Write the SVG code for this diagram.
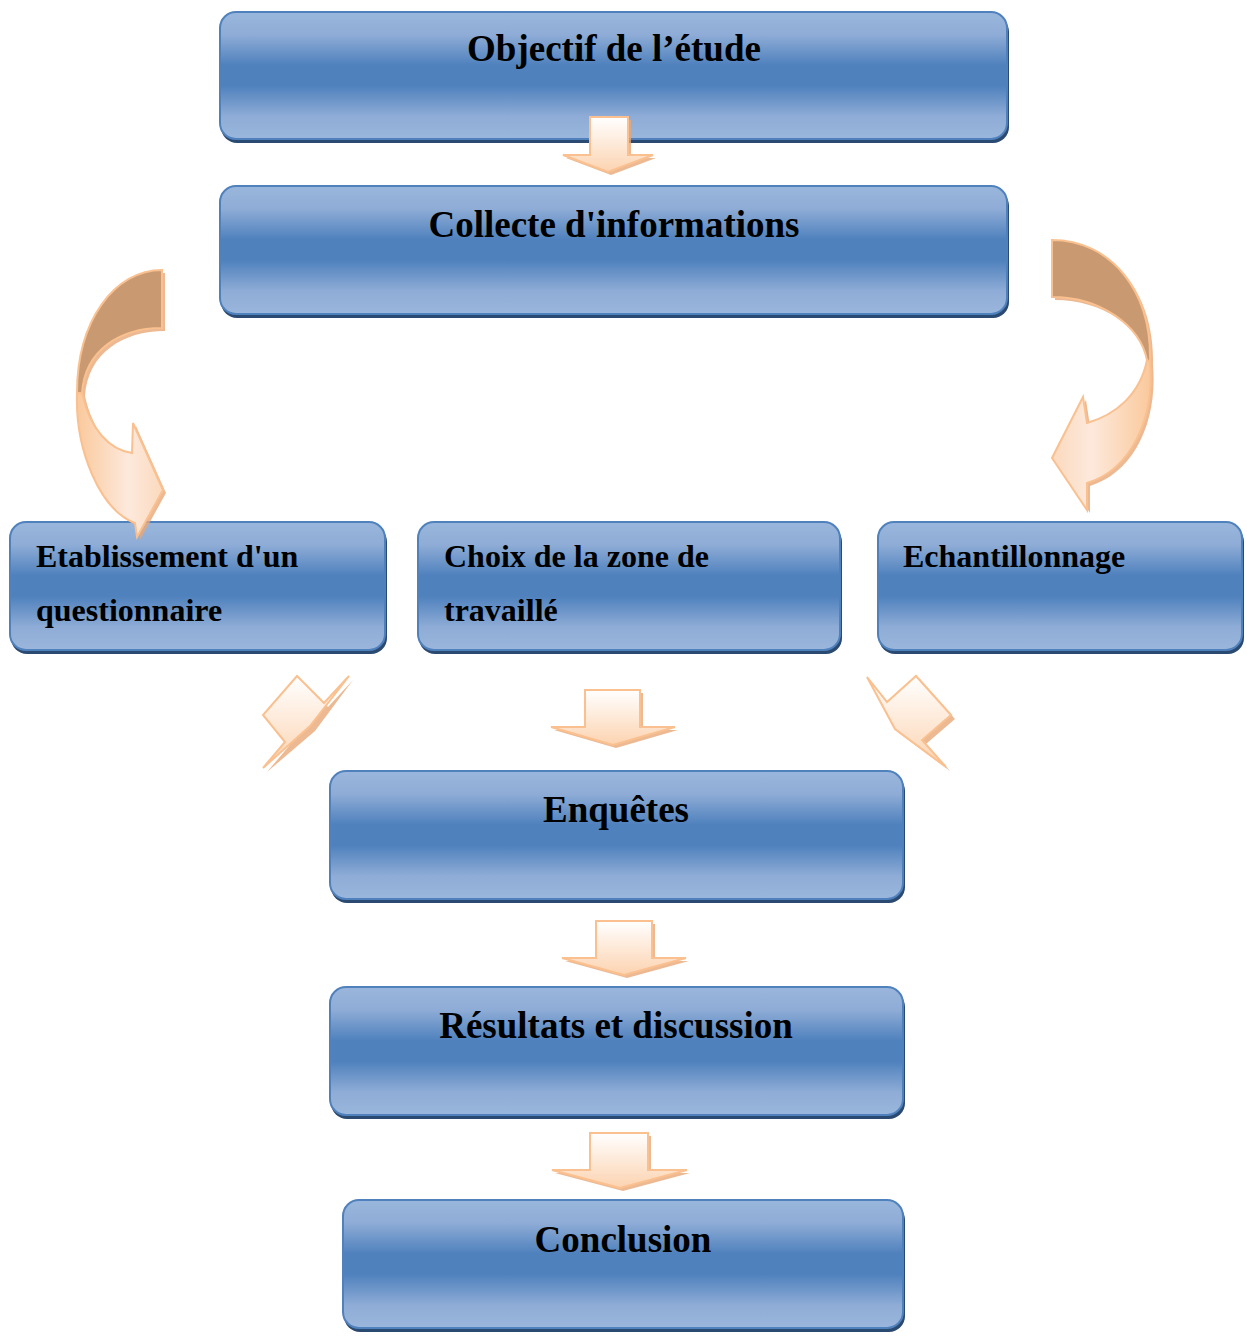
<svg xmlns="http://www.w3.org/2000/svg" width="1247" height="1337" viewBox="0 0 1247 1337">
<defs>
<linearGradient id="boxg" x1="0" y1="0" x2="0" y2="1">
<stop offset="0" stop-color="#9ab6dc"/>
<stop offset="0.18" stop-color="#8eacd6"/>
<stop offset="0.42" stop-color="#4f81bd"/>
<stop offset="0.58" stop-color="#4f81bd"/>
<stop offset="0.82" stop-color="#8eacd6"/>
<stop offset="1" stop-color="#9ab6dc"/>
</linearGradient>
<linearGradient id="arrg" x1="0" y1="0" x2="0" y2="1">
<stop offset="0" stop-color="#ffffff"/>
<stop offset="1" stop-color="#fcd3b0"/>
</linearGradient>
<linearGradient id="curvg" x1="0" y1="0" x2="1" y2="0">
<stop offset="0" stop-color="#fac99c"/>
<stop offset="0.6" stop-color="#fde9dc"/>
<stop offset="1" stop-color="#fbd9bd"/>
</linearGradient>
<linearGradient id="curvg2" x1="1" y1="0" x2="0" y2="0">
<stop offset="0" stop-color="#fac99c"/>
<stop offset="0.6" stop-color="#fde9dc"/>
<stop offset="1" stop-color="#fbd9bd"/>
</linearGradient>
</defs>
<style>
.box{fill:url(#boxg);stroke:#4f81bd;stroke-width:2}
.sh{fill:#2b4a72}
.t{font-family:"Liberation Serif","Times New Roman",serif;font-weight:bold;fill:#000}
.big{font-size:37px;text-anchor:middle}
.sm{font-size:32px}
.arr{fill:url(#arrg);stroke:#fac08f;stroke-width:2;stroke-linejoin:miter}
.ash{fill:#e7a878;opacity:0.8}
.dark{fill:#c99a72;stroke:#fac08f;stroke-width:2}
.lc{fill:url(#curvg);stroke:#fac08f;stroke-width:2}
.rc{fill:url(#curvg2);stroke:#fac08f;stroke-width:2}
</style>

<g id="n1">
<rect class="sh" x="221" y="16" width="788" height="127" rx="16"/>
<rect class="box" x="220" y="12" width="787" height="127" rx="16"/>
<text class="t big" x="614" y="61">Objectif de l’étude</text>
</g>
<g id="n2">
<rect class="sh" x="221" y="190" width="788" height="128" rx="16"/>
<rect class="box" x="220" y="186" width="787" height="128" rx="16"/>
<text class="t big" x="614" y="237">Collecte d'informations</text>
</g>
<g id="n3">
<rect class="sh" x="11" y="526" width="376" height="128" rx="16"/>
<rect class="box" x="10" y="522" width="375" height="128" rx="16"/>
<text class="t sm" x="36" y="567">Etablissement d'un</text>
<text class="t sm" x="36" y="621">questionnaire</text>
</g>
<g id="n4">
<rect class="sh" x="419" y="526" width="423" height="128" rx="16"/>
<rect class="box" x="418" y="522" width="422" height="128" rx="16"/>
<text class="t sm" x="444" y="567">Choix de la zone de</text>
<text class="t sm" x="444" y="621">travaillé</text>
</g>
<g id="n5">
<rect class="sh" x="879" y="526" width="365" height="128" rx="16"/>
<rect class="box" x="878" y="522" width="364" height="128" rx="16"/>
<text class="t sm" x="903" y="567">Echantillonnage</text>
</g>
<g id="n6">
<rect class="sh" x="331" y="775" width="574" height="128" rx="16"/>
<rect class="box" x="330" y="771" width="573" height="128" rx="16"/>
<text class="t big" x="616" y="822">Enquêtes</text>
</g>
<g id="n7">
<rect class="sh" x="331" y="991" width="574" height="128" rx="16"/>
<rect class="box" x="330" y="987" width="573" height="128" rx="16"/>
<text class="t big" x="616" y="1038">Résultats et discussion</text>
</g>
<g id="n8">
<rect class="sh" x="344" y="1204" width="561" height="128" rx="16"/>
<rect class="box" x="343" y="1200" width="560" height="128" rx="16"/>
<text class="t big" x="623" y="1252">Conclusion</text>
</g>

<g id="connectors">
<!-- arrow 1 -> 2 -->
<g>
<path class="ash" d="M593,120 H631 V158 H656 L611,175 L566,158 H593 Z"/>
<path class="arr" d="M590,117 H628 V155 H653 L608,172 L563,155 H590 Z"/>
</g>
<!-- left curved arrow -->
<g>
<path class="ash" d="M165,273 C118,273 80,323 80,396 C78,453 103,513 138,526 L140,540 L166,493 L136,426 L135,456 C113,453 93,433 85,396 C88,353 123,331 165,331 Z"/>
<path class="dark" d="M162,270 C115,270 77,320 77,393 L82,393 C85,350 120,328 162,328 Z"/>
<path class="lc" d="M77,393 C75,450 100,510 135,523 L137,537 L163,490 L133,423 L132,453 C110,450 90,430 82,393 Z"/>
</g>
<!-- right curved arrow -->
<g>
<path class="ash" d="M1055,243 C1113,243 1155,293 1153,365 C1158,423 1133,473 1090,486 L1090,513 L1055,461 L1086,400 L1090,426 C1118,418 1143,398 1150,363 C1143,328 1103,300 1055,300 Z"/>
<path class="dark" d="M1052,240 C1110,240 1152,290 1150,362 L1147,360 C1140,325 1100,297 1052,297 Z"/>
<path class="rc" d="M1150,362 C1155,420 1130,470 1087,483 L1087,510 L1052,458 L1083,397 L1087,423 C1115,415 1140,395 1147,360 Z"/>
</g>
<!-- left diagonal arrow -->
<g>
<path class="ash" d="M301,680 L328,707 L353,680 L315,731 L267,772 L289,746 L267,719 Z"/>
<path class="arr" d="M297,676 L324,703 L349,676 L310,726 L263,768 L285,742 L263,715 Z"/>
</g>
<!-- middle arrow -->
<g>
<path class="ash" d="M588,693 H643 V730 H678 L616,748 L554,730 H588 Z"/>
<path class="arr" d="M585,690 H640 V727 H675 L613,745 L551,727 H585 Z"/>
</g>
<!-- right diagonal arrow -->
<g>
<path class="ash" d="M870,680 L891,706 L920,679 L955,719 L926,744 L950,771 L899,733 Z"/>
<path class="arr" d="M867,677 L887,702 L916,676 L951,715 L922,740 L946,767 L895,729 Z"/>
</g>
<!-- arrow 6 -> 7 -->
<g>
<path class="ash" d="M599,924 H655 V961 H689 L627,978 L565,961 H599 Z"/>
<path class="arr" d="M596,921 H652 V958 H686 L624,975 L562,958 H596 Z"/>
</g>
<!-- arrow 7 -> 8 -->
<g>
<path class="ash" d="M593,1136 H651 V1173 H690 L623,1191 L555,1173 H593 Z"/>
<path class="arr" d="M590,1133 H648 V1170 H687 L620,1188 L552,1170 H590 Z"/>
</g>
</g>
</svg>
